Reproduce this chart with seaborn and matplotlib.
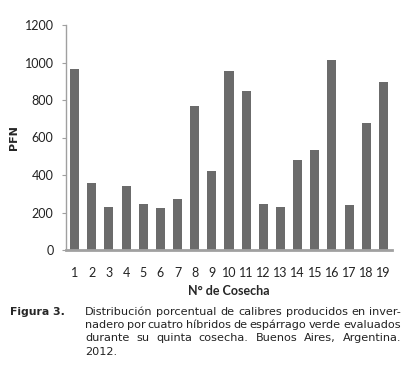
import matplotlib
matplotlib.use("Agg")
import matplotlib.pyplot as plt
import seaborn as sns
import pandas as pd

cosecha = [str(i) for i in range(1, 20)]
pfn = [965, 359, 231, 343, 247, 222, 270, 766, 421, 956, 846, 247, 231, 478, 533, 1013, 238, 677, 894]
yticks = [0, 200, 400, 600, 800, 1000, 1200]

caption_lines = [
    "Distribución porcentual de calibres producidos en inver-",
    "nadero por cuatro híbridos de espárrago verde evaluados",
    "durante su quinta cosecha. Buenos Aires, Argentina.",
    "2012.",
]

sns.set_style("white")
plt.rcParams['font.family'] = ['Lato', 'DejaVu Sans']

df = pd.DataFrame({"cosecha": cosecha, "pfn": pfn})

fig = plt.figure(figsize=(4.17, 3.89), dpi=100)
ax = fig.add_axes([66/417, 1 - 250/389, (392-66)/417, (250-25)/389])
sns.barplot(data=df, x="cosecha", y="pfn", color="#6b6b6b", width=0.53,
            saturation=1, ax=ax, edgecolor="none")
ax.set_ylim(0, 1200)
ax.set_xlim(-0.5, 18.5)
ax.set_yticks(yticks)
ax.set_yticklabels([str(v) for v in yticks])
for s in ["top", "right"]:
    ax.spines[s].set_visible(False)
ax.spines["left"].set_color("#a0a0a0")
ax.spines["left"].set_linewidth(1.0)
ax.spines["bottom"].set_color("#a0a0a0")
ax.spines["bottom"].set_linewidth(2.0)
ax.tick_params(axis="y", left=True, length=3, color="#a0a0a0", labelsize=9, pad=6)
for t in ax.get_yticklabels():
    t.set_color("#222222")
ax.tick_params(axis="x", bottom=False, labelsize=9, pad=9)
for t in ax.get_xticklabels():
    t.set_color("#222222")
ax.set_xlabel("N° de Cosecha", fontsize=9, fontweight="bold", labelpad=4)
ax.set_ylabel("PFN", fontsize=8, fontweight="bold", labelpad=4, family=["DejaVu Sans"])

# caption
cap_fs = 8.1
fig.text(10/417, 1 - 312/389, "Figura 3.", fontsize=7.8, fontweight="bold",
         family=["DejaVu Sans"], va="center", ha="left")
x0, x1 = 85, 401
fig.canvas.draw()
renderer = fig.canvas.get_renderer()
for i, line in enumerate(caption_lines):
    y = 1 - (312 + i*13.2)/389
    words = line.split(" ")
    if i < len(caption_lines) - 1:
        texts = [fig.text(0, y, w, fontsize=cap_fs, family=["DejaVu Sans"], va="center", ha="left", color="#222222") for w in words]
        widths = [t.get_window_extent(renderer).width for t in texts]
        gap = (x1 - x0 - sum(widths)) / (len(words) - 1)
        x = x0
        for t, w in zip(texts, widths):
            t.set_x(x/417)
            x += w + gap
    else:
        fig.text(x0/417, y, line, fontsize=cap_fs, family=["DejaVu Sans"], va="center", ha="left", color="#222222")

fig.savefig("out.png", dpi=100)
